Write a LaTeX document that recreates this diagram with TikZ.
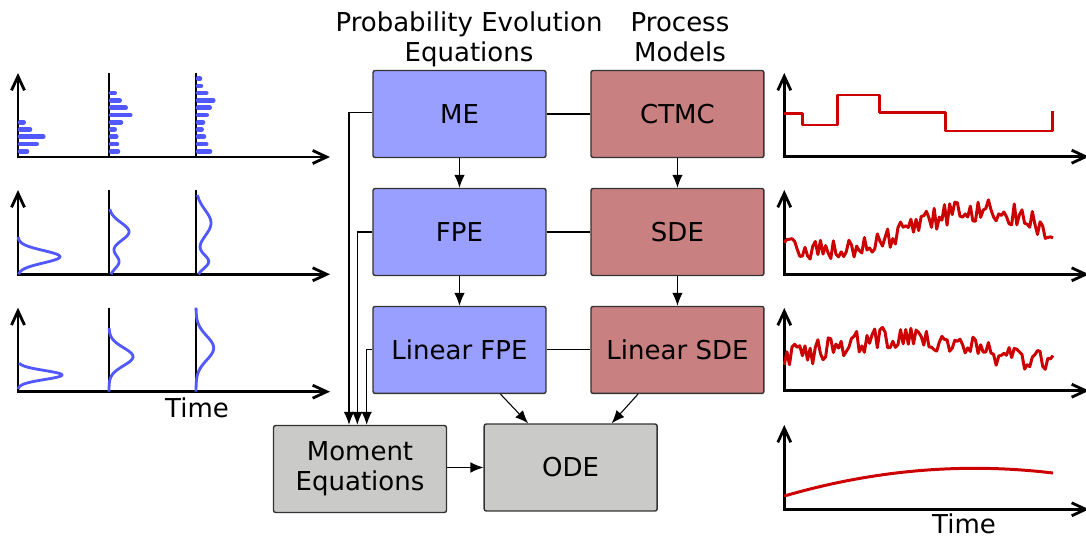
\documentclass[tikz,border=0pt]{standalone}
\usepackage{fontspec}
\setmainfont{DejaVu Sans}
\usetikzlibrary{arrows.meta,positioning,calc}
\definecolor{peblue}{RGB}{153,159,255}
\definecolor{pmred}{RGB}{201,128,128}
\definecolor{mgray}{RGB}{202,203,201}
\definecolor{pdfblue}{RGB}{82,88,255}
\definecolor{trajred}{RGB}{204,0,0}
\tikzset{
    block/.style = {draw=black!80, rectangle, rounded corners=1.2pt, line width=0.8pt,
        minimum height=1.74cm, minimum width=3.46cm, align=center},
    pe/.style = {block, fill=peblue},
    pm/.style = {block, fill=pmred},
    mom/.style = {block, fill=mgray},
    arrow/.style = {draw, line width=0.6pt, -{Latex[length=0.26cm,width=0.21cm]}},
    link/.style = {draw, line width=0.6pt},
    axes/.style = {line width=1.6pt, {Straight Barb[length=0.28cm,width=0.26cm]}-{Straight Barb[length=0.28cm,width=0.26cm]}},
    slice/.style = {line width=0.7pt},
    histbar/.style = {line width=2.6pt, line cap=round, pdfblue},
    density/.style = {line width=1.6pt, pdfblue},
    traj/.style = {line width=1.7pt, trajred, line join=round}
}

\begin{document}
\begin{tikzpicture}[x=0.02cm, y=-0.02cm, node distance=2.36cm,
    every node/.style={font=\fontsize{14.8pt}{17.1pt}\selectfont},
    declare function={g(\y,\m,\s)=exp(-(\y-\m)*(\y-\m)/(2*\s*\s));}]
    \useasboundingbox (0,0) rectangle (1086,537);
    \node [align=center] (petitle) at (469,39.5) {Probability Evolution\\Equations};
    \node [align=center] (pmtitle) at (680,37) {Process\\Models};
    \node [pe] (me) at (459.5,114) {ME};
    \node [pe, below of=me] (fpe) {FPE};
    \node [pe, below of=fpe] (lfpe) {Linear FPE};
    \node [pm, right of=me, node distance=4.36cm] (ctmc) {CTMC};
    \node [pm, right of=fpe, node distance=4.36cm] (sde) {SDE};
    \node [pm, right of=lfpe, node distance=4.36cm] (lsde) {Linear SDE};
    \node [mom] (moment) at (360,469) {Moment\\Equations};
    \node [mom, right of=moment, node distance=4.214cm, yshift=0.03cm] (ode) {ODE};
    \foreach \a/\b in {me/fpe, fpe/lfpe, ctmc/sde, sde/lsde}
        \draw [arrow] (\a) -- (\b);
    \foreach \a/\b in {me/ctmc, fpe/sde, lfpe/lsde}
        \draw [link] (\a) -- (\b);
    \draw [arrow] (moment.east |- ode) -- (ode);
    \draw [arrow] ([xshift=0.82cm]lfpe.south) -- ([xshift=-0.85cm]ode.north);
    \draw [arrow] ([xshift=-0.79cm]lsde.south) -- ([xshift=0.82cm]ode.north);
    \draw [arrow] ([yshift=0.03cm]me.west) -| ([xshift=-0.22cm]moment.north);
    \draw [arrow] (fpe.west) -| ([xshift=-0.054cm]moment.north);
    \draw [arrow] (lfpe.west) -| ([xshift=0.134cm]moment.north);
    % distributions
    \foreach \b/\t in {157/73, 274.3/190, 391.7/307.7}{
        \draw [axes] (18,\t) -- (18,\b) -- (330,\b);
        \foreach \c in {109,196}
            \draw [slice] (\c,\t) -- (\c,\b);
    }
    \foreach \c/\lens in {18/{11,20.7,27.3,14,7.7}, 109/{11,10,9.3,7.7,14,23.3,18.7,12.7,7.7},
        196/{16,12.3,10,7.7,9,12.7,15.7,19.3,12.3,7,6}}{
        \foreach \l [count=\k from 0] in \lens
            \draw [histbar] (\c+2,151.3-7.27*\k) -- (\c+\l-2,151.3-7.27*\k);
    }
    \draw [density] plot[domain=274.3:237, samples=60] ({18+42*g(\x,256.7,6.2)}, \x);
    \draw [density] plot[domain=274.3:209, samples=70] ({109+10*g(\x,261.7,7)+20*g(\x,231.7,9)}, \x);
    \draw [density] plot[domain=274.3:195, samples=80] ({196+12.5*g(\x,261.7,7)+15*g(\x,223,13)}, \x);
    \draw [density] plot[domain=389:363, samples=50] ({18+44*g(\x,375,4.5)}, \x);
    \draw [density] plot[domain=391.7:328, samples=60] ({109+24*g(\x,356.7,9)}, \x);
    \draw [density] plot[domain=391.7:307.7, samples=70] ({196+17.7*g(\x,348,12)}, \x);
    \node (ltime) at (197,407.5) {Time};
    % trajectories
    \foreach \b/\t in {156.7/73, 274.3/190, 390.7/308, 509.3/425}
        \draw [axes] (784.3,\t) -- (784.3,\b) -- (1089,\b);
    \draw [traj] (784.3,113.3) -| (802.3,125) -| (837.7,95) -| (879,112.7) -| (945.7,131) -| (1052.7,110.7);
    \pgfmathsetseed{11}
    \draw [traj] plot[domain=784.3:1053, samples=105] (\x, {231-20*sin(324*((\x-784.3)/268.7-0.45))+12*rand});
    \draw [traj] plot[domain=784.3:1053, samples=105] (\x, {351-13*sin(288*((\x-784.3)/268.7-0.12))+12*rand});
    \draw [traj] plot[domain=784.3:1053, samples=50] (\x, {468.3+55.3*((\x-784.3)/268.7-0.708)*((\x-784.3)/268.7-0.708)});
    \node [inner sep=0pt] (rtime) at (964,524) {Time};
\end{tikzpicture}
\end{document}
